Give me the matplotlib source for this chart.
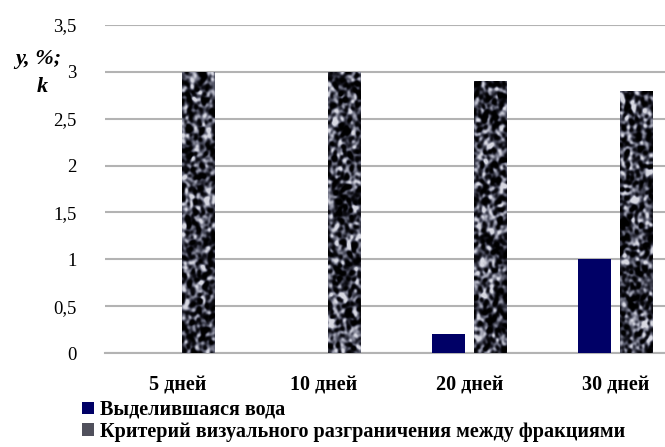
import numpy as np
import matplotlib
matplotlib.use("Agg")
import matplotlib.pyplot as plt
from matplotlib.patches import Patch
from matplotlib.colors import LinearSegmentedColormap
from matplotlib.ticker import FuncFormatter

plt.rcParams['font.family'] = ['Liberation Serif', 'DejaVu Serif']

categories = ["5 дней", "10 дней", "20 дней", "30 дней"]
water = [0, 0, 0.2, 1.0]
criterion = [3.0, 3.0, 2.9, 2.8]
series_names = ["Выделившаяся вода",
                "Критерий визуального разграничения между фракциями"]
yticks = [0, 0.5, 1, 1.5, 2, 2.5, 3, 3.5]

W, H = 665, 447
fig = plt.figure(figsize=(W / 100, H / 100), dpi=100)
# plot area extends past the right edge of the canvas
left_px, right_px, bottom_px, top_px = 104.5, 688.5, 353, 25
ax = fig.add_axes([left_px / W, 1 - bottom_px / H,
                   (right_px - left_px) / W, (bottom_px - top_px) / H])

x = np.arange(len(categories))
bw = 0.226
off = 0.144

ax.bar(x - off, water, bw, color='#000066', zorder=3)
granite_bars = ax.bar(x + off, criterion, bw, color='none', zorder=3)

# granite texture for the second series
gen = np.random.default_rng(11)
cmap = LinearSegmentedColormap.from_list(
    "granite", ["#000000", "#101018", "#464858", "#8f91a2", "#d8d9e2"])


def smooth(a, s):
    r = int(3 * s) + 1
    k = np.exp(-0.5 * (np.arange(-r, r + 1) / s) ** 2)
    k /= k.sum()
    a = np.apply_along_axis(lambda v: np.convolve(v, k, mode='same'), 0, a)
    a = np.apply_along_axis(lambda v: np.convolve(v, k, mode='same'), 1, a)
    return a


for b in granite_bars:
    hpx = int(b.get_height() * 94) + 10
    tex = smooth(gen.standard_normal((hpx, 40)), 1.7)
    tex = (tex - tex.mean()) / tex.std()
    im = ax.imshow(tex, cmap=cmap, vmin=-1.3, vmax=1.9, aspect='auto',
                   extent=(b.get_x(), b.get_x() + b.get_width(), 0, b.get_height()),
                   interpolation='bilinear', zorder=3)
    im.set_clip_path(b)

ax.set_xlim(-0.5, len(categories) - 0.5)
ax.set_ylim(0, 3.5)
ax.set_yticks(yticks)
ax.yaxis.set_major_formatter(FuncFormatter(lambda v, p: f"{v:g}".replace('.', ',')))
ax.set_xticks(x)
ax.set_xticklabels(categories, fontsize=14.5, fontweight='bold')
ax.tick_params(axis='both', length=0, colors='black')
ax.tick_params(axis='y', pad=20, labelsize=13.5)
ax.tick_params(axis='x', pad=16)
ax.grid(axis='y', color='#b3b3b3', linewidth=1.5, zorder=0)
ax.set_axisbelow(True)
for s in ['top', 'right', 'left']:
    ax.spines[s].set_visible(False)
ax.spines['bottom'].set_color('#b3b3b3')
ax.spines['bottom'].set_linewidth(1.5)

fig.text(38 / W, 1 - 59 / H, "y, %;", fontsize=16, fontweight='bold',
         fontstyle='italic', ha='center', va='center')
fig.text(42 / W, 1 - 87 / H, "k", fontsize=16, fontweight='bold',
         fontstyle='italic', ha='center', va='center')

handles = [Patch(facecolor='#000066', edgecolor='none'),
           Patch(facecolor='#50505c', edgecolor='none')]
fig.legend(handles, series_names, loc='upper left',
           bbox_to_anchor=(82 / W, 1 - 400 / H), frameon=False,
           prop={'size': 14.5, 'weight': 'bold'}, handlelength=0.6,
           handleheight=0.6, handletextpad=0.3, labelspacing=0.08,
           borderpad=0, borderaxespad=0)

fig.savefig("out.png", dpi=100)
